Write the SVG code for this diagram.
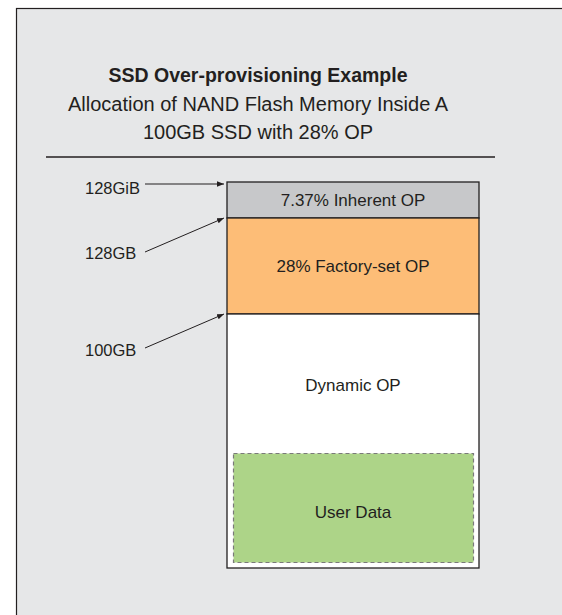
<svg xmlns="http://www.w3.org/2000/svg" width="562" height="615" viewBox="0 0 562 615">
  <defs>
    <marker id="arrow" viewBox="0 0 10 10" refX="10" refY="5" markerWidth="7" markerHeight="7" markerUnits="userSpaceOnUse" orient="auto">
      <path d="M0,1 L10,5 L0,9 z" fill="#231f20"/>
    </marker>
    <style>
      text { font-family: "Liberation Sans", Arial, sans-serif; fill: #231f20; }
      .title { font-size: 19.5px; font-weight: bold; text-anchor: middle; }
      .sub { font-size: 20px; text-anchor: middle; }
      .lbl { font-size: 16.5px; }
      .seg { font-size: 17px; text-anchor: middle; }
      .conn { stroke: #231f20; stroke-width: 1; fill: none; marker-end: url(#arrow); }
      .edge { stroke: #231f20; stroke-width: 1.3; }
    </style>
  </defs>

  <rect width="562" height="615" fill="#ffffff"/>
  <!-- panel -->
  <rect x="16.5" y="8.5" width="560" height="620" fill="#e6e7e8" stroke="#231f20" stroke-width="1.2"/>

  <!-- heading -->
  <g id="heading">
    <text class="title" x="258" y="82">SSD Over-provisioning Example</text>
    <text class="sub" x="258" y="111">Allocation of NAND Flash Memory Inside A</text>
    <text class="sub" x="258" y="139">100GB SSD with 28% OP</text>
    <line x1="46" y1="157" x2="495" y2="157" stroke="#231f20" stroke-width="1.3"/>
  </g>

  <!-- capacity stack -->
  <g id="inherent-op">
    <rect x="227" y="182" width="252" height="36" fill="#c7c8ca" class="edge"/>
    <text class="seg" x="353" y="206">7.37% Inherent OP</text>
  </g>
  <g id="factory-op">
    <rect x="227" y="218" width="252" height="96" fill="#fdbd77" class="edge"/>
    <text class="seg" x="353" y="272">28% Factory-set OP</text>
  </g>
  <g id="dynamic-op">
    <rect x="227" y="314" width="252" height="254" fill="#ffffff" class="edge"/>
    <text class="seg" x="353" y="391">Dynamic OP</text>
  </g>
  <g id="user-data">
    <rect x="233.5" y="453.5" width="240" height="109" fill="#add488" stroke="#7a7a7a" stroke-width="1.2" stroke-dasharray="4 3"/>
    <text class="seg" x="353" y="518">User Data</text>
  </g>

  <!-- capacity labels -->
  <g id="label-128gib"><text class="lbl" x="85" y="194">128GiB</text></g>
  <g id="label-128gb"><text class="lbl" x="85" y="259">128GB</text></g>
  <g id="label-100gb"><text class="lbl" x="85" y="356">100GB</text></g>

  <g id="connectors">
    <line class="conn" x1="145" y1="184" x2="224" y2="184"/>
    <line class="conn" x1="145" y1="252" x2="224" y2="218"/>
    <line class="conn" x1="145" y1="348" x2="224" y2="314"/>
  </g>
</svg>
